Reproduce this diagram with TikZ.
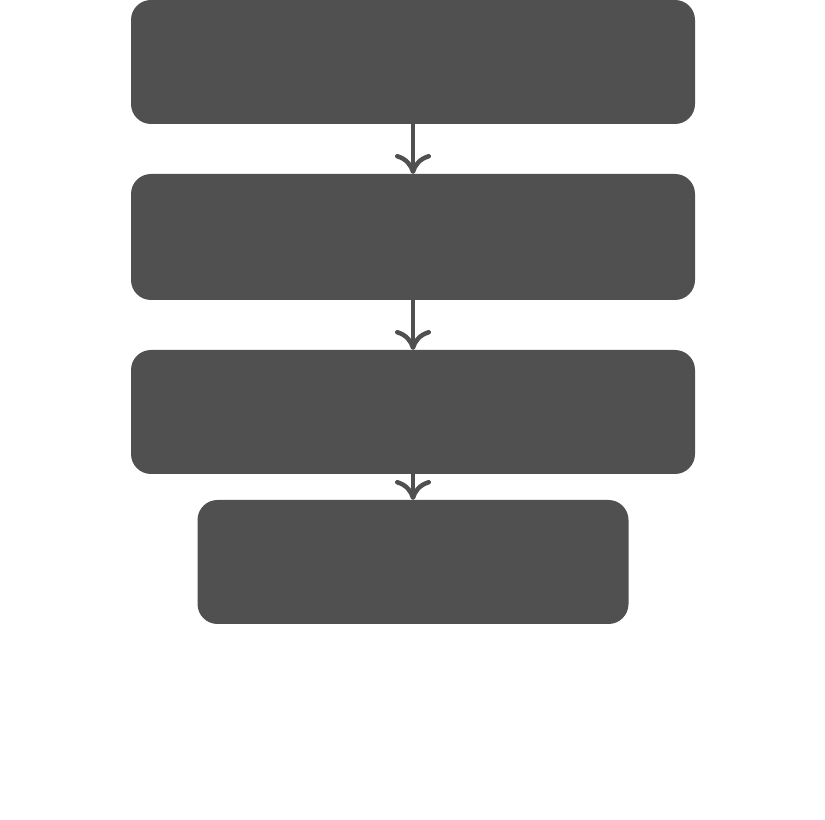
\documentclass[tikz,border=0pt]{standalone}
\usepackage{tikz}
\usetikzlibrary{arrows.meta}
\usetikzlibrary{positioning}
\definecolor{slate}{RGB}{80, 80, 80}

\begin{document}
\begin{tikzpicture}[
    stage/.style={fill=slate, draw=none, rounded corners=0.2cm, inner sep=0pt, outer sep=0pt,
                  minimum width=5.64cm, minimum height=1.24cm},
    flow/.style={draw=slate, line width=0.045cm,
                 -{Computer Modern Rightarrow[length=0.2cm, width=0.36cm]}},
    node distance=0.5cm
]
            \useasboundingbox (0,0) rectangle (8.25,8.20);
            \node[stage]                                   (first)  at (4.13,7.58) {};
            \node[stage, minimum height=1.26cm, below=of first]  (second) {};
            \node[stage, below=of second]                  (third)  {};
            \node[stage, minimum width=4.31cm, below=0.26cm of third] (fourth) {};
            \draw[flow] (first)  -- (second);
            \draw[flow] (second) -- (third);
            \draw[flow] (third)  -- (fourth);
        \end{tikzpicture}
\end{document}
